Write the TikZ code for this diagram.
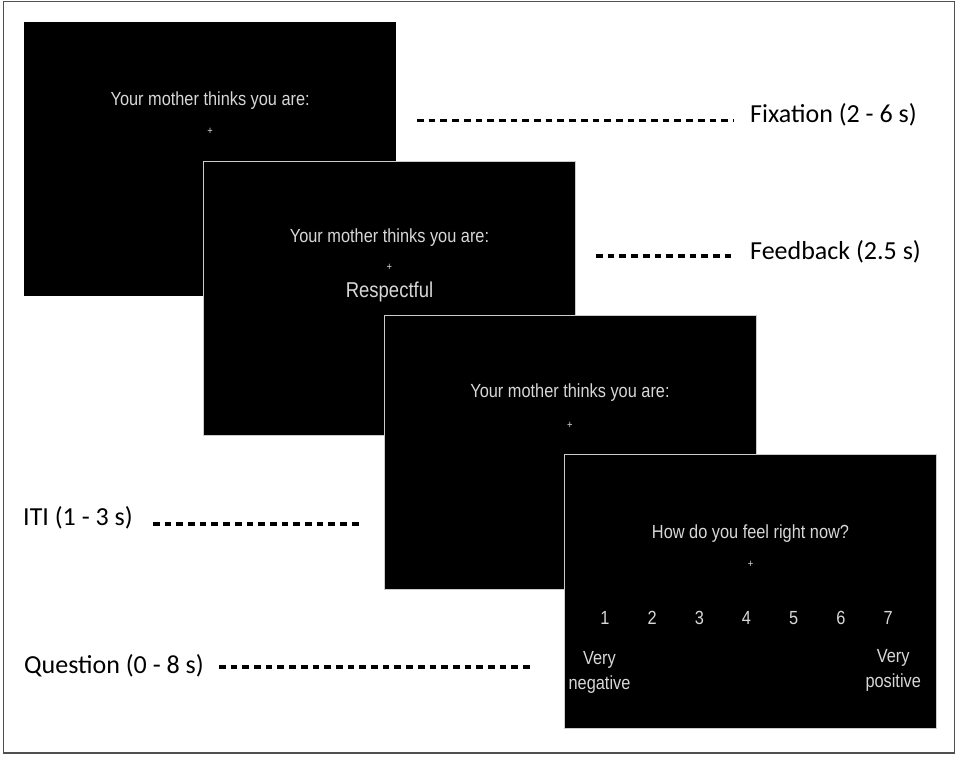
\documentclass[tikz,border=0pt]{standalone}
\usepackage{fontspec}
\setmainfont{Carlito}
\newfontfamily\screenfont[FakeStretch=0.86]{Liberation Sans}
\definecolor{screengray}{RGB}{215,215,215}
\definecolor{framegray}{RGB}{80,80,80}

\begin{document}
\begin{tikzpicture}[x=1pt, y=-1pt]
  \tikzstyle{screen} = [fill=black, minimum width=372pt, minimum height=274pt, anchor=north west, inner sep=0pt]
  \tikzstyle{front} = [screen, draw=gray!40, line width=1pt]
  \tikzstyle{stim} = [text=screengray, font=\screenfont\fontsize{19}{25}\selectfont, align=center, inner sep=1pt]
  \tikzstyle{word} = [stim, font=\screenfont\fontsize{21.5}{25}\selectfont]
  \tikzstyle{fix} = [text=screengray, font=\screenfont\fontsize{11}{11}\selectfont, inner sep=0pt]
  \tikzstyle{phase} = [font=\fontsize{26}{30}\selectfont, anchor=base west, inner sep=0pt]
  \tikzstyle{timeline} = [line width=3.5pt, dash pattern=on 6.7pt off 5pt]
  \useasboundingbox (0,0) rectangle (957,756);
  \draw [framegray, line width=1.5pt] (3.5,1.5) rectangle (954.5,753);

  % screens, back to front
  \node [screen] (s1) at (24,22) {};
  \node [front] (s2) at (203,161) {};
  \node [front] (s3) at (383.5,315) {};
  \node [front] (s4) at (564,453.5) {};

  \node [stim] (ask1) at ([yshift=59pt]s1.center) {Your mother thinks you are:};
  \node [fix] (plus1) at ([yshift=27.5pt]s1.center) {+};
  \node [stim] (ask2) at ([yshift=61pt]s2.center) {Your mother thinks you are:};
  \node [fix] (plus2) at ([yshift=31pt]s2.center) {+};
  \node [word] (trait) at ([yshift=7pt]s2.center) {Respectful};
  \node [stim] (ask3) at ([yshift=60pt]s3.center) {Your mother thinks you are:};
  \node [fix] (plus3) at ([yshift=27pt]s3.center) {+};
  \node [stim] (ask4) at ([yshift=57.5pt]s4.center) {How do you feel right now?};
  \node [fix] (plus4) at ([yshift=26.5pt]s4.center) {+};
  \foreach \n in {1,...,7}
    \node [stim, anchor=base] (rate\n) at ([xshift={(\n-4)*47.2pt-4pt}, yshift=-33pt]s4.center) {\n};
  \node [stim] (lowend) at ([xshift=-151pt, yshift=-81.5pt]s4.center) {Very\\negative};
  \node [stim] (highend) at ([xshift=142.7pt, yshift=-79.5pt]s4.center) {Very\\positive};

  % phase labels
  \node [phase] (fixlabel) at (750,122) {Fixation (2 - 6 s)};
  \node [phase] (feedlabel) at (750,259) {Feedback (2.5 s)};
  \node [phase] (itilabel) at (23,525) {ITI (1 - 3 s)};
  \node [phase] (asklabel) at (24,673) {Question (0 - 8 s)};

  \coordinate (fixstart) at (417,120.5);
  \coordinate (feedstart) at (596,256);
  \coordinate (itiend) at (362,524);
  \coordinate (askend) at (530,667);
  \draw [timeline, shorten >=17pt] (fixstart) -- (fixstart -| fixlabel.west);
  \draw [timeline, shorten >=17pt] (feedstart) -- (feedstart -| feedlabel.west);
  \draw [timeline, shorten <=20pt] (itiend -| itilabel.east) -- (itiend);
  \draw [timeline, shorten <=15pt] (askend -| asklabel.east) -- (askend);
\end{tikzpicture}
\end{document}
